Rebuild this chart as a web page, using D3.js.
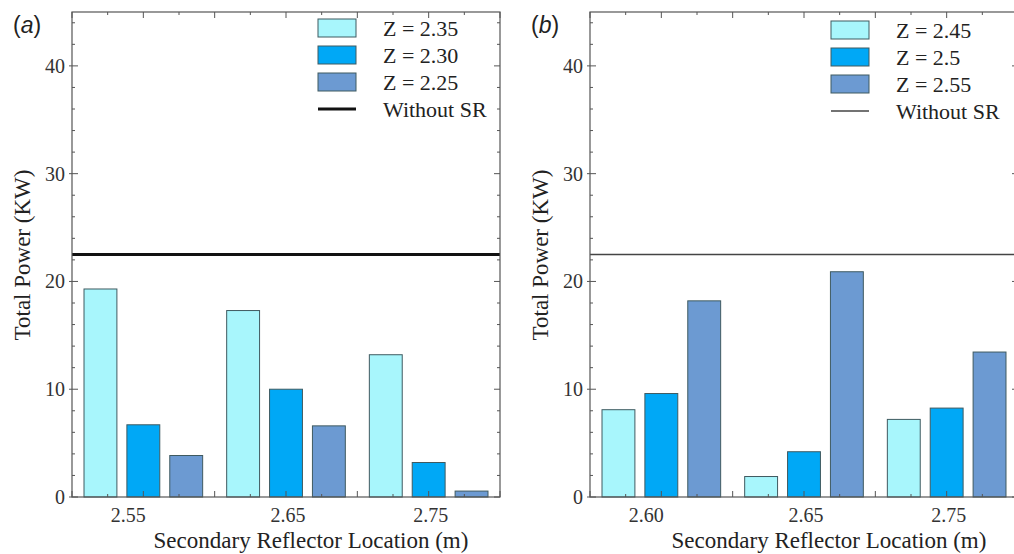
<!DOCTYPE html>
<html>
<head>
<meta charset="utf-8">
<script src="https://cdn.jsdelivr.net/npm/d3@7"></script>
<style>
body { margin: 0; background: #fff; }
text { font-family: "Liberation Serif", "Times New Roman", serif; }
text.tag { font-family: "Liberation Sans", Arial, sans-serif; }
</style>
</head>
<body>
<div id="chart"></div>
<script>
// data
var catsA = ["2.55", "2.65", "2.75"]
var seriesA = ["Z = 2.35", "Z = 2.30", "Z = 2.25"]
var valuesA = [
	[19.3, 17.3, 13.2],
	[6.7, 10.0, 3.2],
	[3.85, 6.6, 0.55]
]
var baseA = 22.5

var catsB = ["2.60", "2.65", "2.75"]
var seriesB = ["Z = 2.45", "Z = 2.5", "Z = 2.55"]
var valuesB = [
	[8.1, 1.9, 7.2],
	[9.6, 4.2, 8.25],
	[18.2, 20.9, 13.45]
]
var baseB = 22.5

var yTicks = [0, 10, 20, 30, 40]
var colors = ["#a8f6fc", "#00a8f6", "#6c9ad2"]

var svg = d3.select("#chart").append("svg").attr("width", 1014).attr("height", 554)

function panel(opt) {
	var x0 = opt.left, x1 = opt.left + 428, top = 12, bottom = 497
	var y = d3.scaleLinear().domain([0, 45]).range([bottom, top])
	var x = d3.scaleBand().domain(opt.cats).range([x0, x1]).padding(0)
	var xs = d3.scaleBand().domain(d3.range(opt.series.length)).range([0, x.bandwidth()])
		.paddingInner(0.233).paddingOuter(0.28)
	var xt = d3.scaleLinear().domain([2.5, 2.8]).range([x0, x1])
	var g = svg.append("g")

	// bars
	opt.values.forEach(function(vals, s) {
		g.selectAll(null).data(vals).enter().append("rect")
			.attr("x", function(d, i) { return x(opt.cats[i]) + xs(s) })
			.attr("width", xs.bandwidth())
			.attr("y", function(d) { return y(d) })
			.attr("height", function(d) { return y(0) - y(d) })
			.attr("fill", colors[s]).attr("stroke", "#3f5a60").attr("stroke-width", 1)
	})

	// baseline without SR
	g.append("line").attr("x1", x0).attr("x2", x1).attr("y1", y(opt.base)).attr("y2", y(opt.base))
		.attr("stroke", opt.lineColor).attr("stroke-width", opt.lineWidth)

	// frame
	g.append("rect").attr("x", x0).attr("y", top).attr("width", x1 - x0).attr("height", bottom - top)
		.attr("fill", "none").attr("stroke", "#555").attr("stroke-width", 1.2)

	// y ticks, left and right
	var yMinor = d3.range(0, 46, 2)
	yMinor.forEach(function(v) {
		var major = v % 10 == 0
		var len = major ? 6 : 3
		g.append("line").attr("x1", major ? x0 - 3 : x0).attr("x2", x0 + len).attr("y1", y(v)).attr("y2", y(v)).attr("stroke", "#555")
		g.append("line").attr("x1", x1).attr("x2", x1 - len).attr("y1", y(v)).attr("y2", y(v)).attr("stroke", "#555")
	})
	g.selectAll(null).data(yTicks).enter().append("text")
		.attr("x", x0 - 7).attr("y", function(d) { return y(d) + 7 })
		.attr("text-anchor", "end").attr("font-size", 20).attr("fill", "#333")
		.text(function(d) { return d })

	// x ticks, top and bottom
	d3.range(0, 13).forEach(function(i) {
		var v = 2.5 + i * 0.025
		var len = i % 2 == 0 ? 6 : 3
		g.append("line").attr("x1", xt(v)).attr("x2", xt(v)).attr("y1", top).attr("y2", top + len).attr("stroke", "#555")
		g.append("line").attr("x1", xt(v)).attr("x2", xt(v)).attr("y1", bottom).attr("y2", bottom - len).attr("stroke", "#555")
	})
	g.selectAll(null).data(opt.cats).enter().append("text")
		.attr("x", function(d, i) { return x(d) + x.bandwidth() / 2 + (i == 0 ? -15 : 2) })
		.attr("y", bottom + 25)
		.attr("text-anchor", "middle").attr("font-size", 20).attr("fill", "#333")
		.text(function(d) { return d })

	// axis titles
	g.append("text").attr("transform", "translate(" + (x0 - 42) + "," + 255 + ") rotate(-90)")
		.attr("text-anchor", "middle").attr("font-size", 23).attr("fill", "#222")
		.text("Total Power (KW)")
	g.append("text").attr("x", (x0 + x1) / 2 + 25).attr("y", 548)
		.attr("text-anchor", "middle").attr("font-size", 23).attr("fill", "#222")
		.text("Secondary Reflector Location (m)")

	// panel label
	g.append("text").attr("class", "tag").attr("x", x0 - 59).attr("y", 33)
		.attr("font-size", 23).attr("fill", "#222")
		.html("(<tspan font-style='italic'>" + opt.tag + "</tspan>)")

	// legend
	var lx = opt.legendX, ly = opt.legendY, step = 27
	opt.series.forEach(function(name, s) {
		g.append("rect").attr("x", lx).attr("y", ly + s * step - 9).attr("width", 38).attr("height", 18)
			.attr("fill", colors[s]).attr("stroke", "#3f5a60")
		g.append("text").attr("x", lx + 65).attr("y", ly + s * step + 8)
			.attr("font-size", 22).attr("fill", "#222").text(name)
	})
	var ll = ly + 3 * step
	g.append("line").attr("x1", lx).attr("x2", lx + 38).attr("y1", ll).attr("y2", ll)
		.attr("stroke", opt.lineColor).attr("stroke-width", opt.lineWidth)
	g.append("text").attr("x", lx + 65).attr("y", ll + 8)
		.attr("font-size", 22).attr("fill", "#222").text("Without SR")
}

panel({ left: 72, cats: catsA, series: seriesA, values: valuesA, base: baseA, tag: "a",
	lineColor: "#111", lineWidth: 3, legendX: 318, legendY: 28 })
panel({ left: 590, cats: catsB, series: seriesB, values: valuesB, base: baseB, tag: "b",
	lineColor: "#444", lineWidth: 1.5, legendX: 831, legendY: 30 })
</script>
</body>
</html>
